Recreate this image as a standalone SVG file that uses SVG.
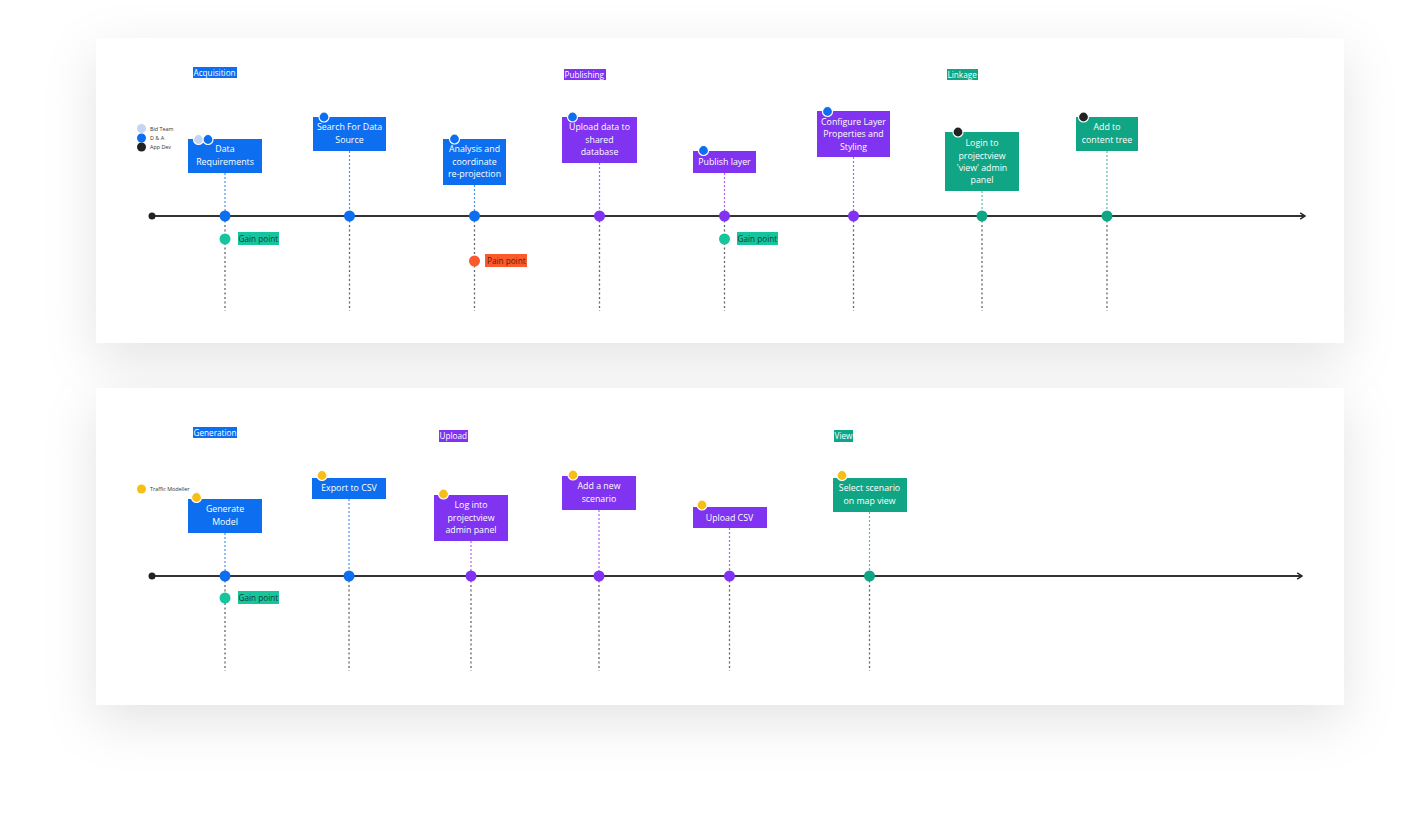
<svg xmlns="http://www.w3.org/2000/svg" width="1402" height="826" viewBox="0 0 1402 826">
<defs>
<filter id="sh" x="-10%" y="-35%" width="120%" height="180%">
<feDropShadow dx="0" dy="16" stdDeviation="26" flood-color="#000" flood-opacity="0.11"/>
</filter>
<marker id="arr" viewBox="0 0 10 10" refX="8" refY="5" markerWidth="8" markerHeight="8" markerUnits="userSpaceOnUse" orient="auto">
<path d="M2,1 L8,5 L2,9" fill="none" stroke="#222" stroke-width="1.8"/>
</marker>
<style>
text{font-family:"Open Sans","Noto Sans","Liberation Sans",sans-serif}
.bt{font-size:8.8px;fill:#fff;text-anchor:middle}
.tt{font-size:8.2px;fill:#fff}
.gt{font-size:8.2px;fill:#1b3a30}
.pt{font-size:8.2px;fill:#5a1a08}
.lg{font-size:5.4px;fill:#333}
.blue{fill:#0d6ff0}
.purple{fill:#8033f0}
.green{fill:#10a585}
.teal{fill:#15c59d}
.orange{fill:#fb5a2c}
.yellow{fill:#f7bf16}
.av{stroke:#fff;stroke-width:1.2}
.tl{stroke:#333;stroke-width:2;fill:none}
.sb{stroke:#4a90f5;stroke-width:1.2;stroke-dasharray:2 2}
.sp{stroke:#a06bf5;stroke-width:1.2;stroke-dasharray:2 2}
.sg{stroke:#52c2aa;stroke-width:1.2;stroke-dasharray:2 2}
.gr{stroke:#666;stroke-width:1.3;stroke-dasharray:2 2.5}
</style>
</defs>
<rect width="1402" height="826" fill="#fff"/>
<rect x="96" y="38" width="1248" height="305" fill="#fff" filter="url(#sh)"/>
<rect x="96" y="388" width="1248" height="317" fill="#fff" filter="url(#sh)"/>

<g id="connectors">
<line class="tl" x1="152" y1="216" x2="1305" y2="216" marker-end="url(#arr)"/>
<circle cx="152" cy="216" r="3.5" fill="#222"/>
<line class="tl" x1="152" y1="576" x2="1302" y2="576" marker-end="url(#arr)"/>
<circle cx="152" cy="576" r="3.5" fill="#222"/>
<line class="sb" x1="225" y1="173" x2="225" y2="216"/>
<line class="sb" x1="349.5" y1="151" x2="349.5" y2="216"/>
<line class="sb" x1="474.5" y1="185" x2="474.5" y2="216"/>
<line class="sp" x1="599.5" y1="163" x2="599.5" y2="216"/>
<line class="sp" x1="724.5" y1="173" x2="724.5" y2="216"/>
<line class="sp" x1="853.5" y1="157" x2="853.5" y2="216"/>
<line class="sg" x1="982" y1="191" x2="982" y2="216"/>
<line class="sg" x1="1107" y1="151" x2="1107" y2="216"/>
<line class="gr" x1="225" y1="216" x2="225" y2="311"/>
<line class="gr" x1="349.5" y1="216" x2="349.5" y2="311"/>
<line class="gr" x1="474.5" y1="216" x2="474.5" y2="311"/>
<line class="gr" x1="599.5" y1="216" x2="599.5" y2="311"/>
<line class="gr" x1="724.5" y1="216" x2="724.5" y2="311"/>
<line class="gr" x1="853.5" y1="216" x2="853.5" y2="311"/>
<line class="gr" x1="982" y1="216" x2="982" y2="311"/>
<line class="gr" x1="1107" y1="216" x2="1107" y2="311"/>
<line class="sb" x1="225" y1="533" x2="225" y2="576"/>
<line class="sb" x1="349" y1="499" x2="349" y2="576"/>
<line class="sp" x1="471" y1="541" x2="471" y2="576"/>
<line class="sp" x1="599" y1="510" x2="599" y2="576"/>
<line class="sp" x1="729.5" y1="528" x2="729.5" y2="576"/>
<line class="sg" x1="869.5" y1="512" x2="869.5" y2="576"/>
<line class="gr" x1="225" y1="576" x2="225" y2="671"/>
<line class="gr" x1="349" y1="576" x2="349" y2="671"/>
<line class="gr" x1="471" y1="576" x2="471" y2="671"/>
<line class="gr" x1="599" y1="576" x2="599" y2="671"/>
<line class="gr" x1="729.5" y1="576" x2="729.5" y2="671"/>
<line class="gr" x1="869.5" y1="576" x2="869.5" y2="671"/>
<circle class="blue" cx="225" cy="216" r="5.5"/>
<circle class="blue" cx="349.5" cy="216" r="5.5"/>
<circle class="blue" cx="474.5" cy="216" r="5.5"/>
<circle class="purple" cx="599.5" cy="216" r="5.5"/>
<circle class="purple" cx="724.5" cy="216" r="5.5"/>
<circle class="purple" cx="853.5" cy="216" r="5.5"/>
<circle class="green" cx="982" cy="216" r="5.5"/>
<circle class="green" cx="1107" cy="216" r="5.5"/>
<circle class="blue" cx="225" cy="576" r="5.5"/>
<circle class="blue" cx="349" cy="576" r="5.5"/>
<circle class="purple" cx="471" cy="576" r="5.5"/>
<circle class="purple" cx="599" cy="576" r="5.5"/>
<circle class="purple" cx="729.5" cy="576" r="5.5"/>
<circle class="green" cx="869.5" cy="576" r="5.5"/>
</g>

<g id="phase-acquisition"><rect class="blue" x="193" y="67" width="44" height="11"/><text class="tt" x="193.5" y="75.8">Acquisition</text></g>
<g id="phase-publishing"><rect class="purple" x="564" y="69" width="42" height="11"/><text class="tt" x="564.5" y="77.8">Publishing</text></g>
<g id="phase-linkage"><rect class="green" x="947" y="69" width="31" height="11"/><text class="tt" x="947.5" y="77.8">Linkage</text></g>
<g id="phase-generation"><rect class="blue" x="193" y="427" width="44" height="11"/><text class="tt" x="193.5" y="435.8">Generation</text></g>
<g id="phase-upload"><rect class="purple" x="439" y="430" width="29" height="12"/><text class="tt" x="439.5" y="439">Upload</text></g>
<g id="phase-view"><rect class="green" x="834" y="430" width="19" height="12"/><text class="tt" x="834.5" y="439">View</text></g>

<g id="legend-top">
<circle cx="141.5" cy="128.5" r="4.5" fill="#c3d5f0"/><text class="lg" x="150" y="130.5">Bid Team</text>
<circle class="blue" cx="141.5" cy="138" r="4.5"/><text class="lg" x="150" y="140">D &amp; A</text>
<circle cx="141.5" cy="147" r="4.5" fill="#222"/><text class="lg" x="150" y="149">App Dev</text>
</g>
<g id="legend-bottom">
<circle class="yellow" cx="141.5" cy="489" r="4.5"/><text class="lg" x="150" y="491">Traffic Modeller</text>
</g>

<g id="n-data-req">
<rect class="blue" x="188" y="139" width="74" height="34"/>
<circle cx="198.5" cy="139.5" r="5" fill="#c3d5f0" class="av"/>
<circle cx="208" cy="139.5" r="5" class="blue av"/>
<text class="bt" x="225" y="152">Data</text><text class="bt" x="225" y="164.5">Requirements</text>
</g>
<g id="n-search">
<rect class="blue" x="313" y="117" width="73" height="34"/>
<circle cx="324" cy="117" r="5" class="blue av"/>
<text class="bt" x="349.5" y="130">Search For Data</text><text class="bt" x="349.5" y="142.5">Source</text>
</g>
<g id="n-analysis">
<rect class="blue" x="443" y="139" width="63" height="46"/>
<circle cx="454.5" cy="139" r="5" class="blue av"/>
<text class="bt" x="474.5" y="152">Analysis and</text><text class="bt" x="474.5" y="164.5">coordinate</text><text class="bt" x="474.5" y="177">re-projection</text>
</g>
<g id="n-upload-db">
<rect class="purple" x="562" y="117" width="75" height="46"/>
<circle cx="572.5" cy="117" r="5" class="blue av"/>
<text class="bt" x="599.5" y="130">Upload data to</text><text class="bt" x="599.5" y="142.5">shared</text><text class="bt" x="599.5" y="155">database</text>
</g>
<g id="n-publish">
<rect class="purple" x="693" y="151" width="63" height="22"/>
<circle cx="703.5" cy="150.5" r="5" class="blue av"/>
<text class="bt" x="724.5" y="164.5">Publish layer</text>
</g>
<g id="n-configure">
<rect class="purple" x="817" y="111" width="73" height="46"/>
<circle cx="827.5" cy="111.5" r="5" class="blue av"/>
<text class="bt" x="853.5" y="124.5">Configure Layer</text><text class="bt" x="853.5" y="137">Properties and</text><text class="bt" x="853.5" y="149.5">Styling</text>
</g>
<g id="n-login-view">
<rect class="green" x="945" y="132" width="74" height="59"/>
<circle cx="958" cy="132" r="5" fill="#222" class="av"/>
<text class="bt" x="982" y="146">Login to</text><text class="bt" x="982" y="158.5">projectview</text><text class="bt" x="982" y="170.5">'view' admin</text><text class="bt" x="982" y="183">panel</text>
</g>
<g id="n-content-tree">
<rect class="green" x="1076" y="117" width="62" height="34"/>
<circle cx="1083.5" cy="117" r="5" fill="#222" class="av"/>
<text class="bt" x="1107" y="130">Add to</text><text class="bt" x="1107" y="142.5">content tree</text>
</g>
<g id="gain-1">
<circle class="teal" cx="225" cy="239" r="5.5"/>
<rect class="teal" x="238" y="232" width="41" height="13"/><text class="gt" x="238.5" y="241.8">Gain point</text>
</g>
<g id="pain-1">
<circle class="orange" cx="474.5" cy="261" r="5.5"/>
<rect class="orange" x="485" y="254" width="42" height="13"/><text class="pt" x="487" y="263.8">Pain point</text>
</g>
<g id="gain-2">
<circle class="teal" cx="724.5" cy="239" r="5.5"/>
<rect class="teal" x="737" y="232" width="41" height="13"/><text class="gt" x="737.5" y="241.8">Gain point</text>
</g>

<g id="n-generate">
<rect class="blue" x="188" y="499" width="74" height="34"/>
<circle cx="196.5" cy="497.5" r="5" class="yellow av"/>
<text class="bt" x="225" y="512">Generate</text><text class="bt" x="225" y="524.5">Model</text>
</g>
<g id="n-export">
<rect class="blue" x="312" y="478" width="74" height="21"/>
<circle cx="322" cy="475.5" r="5" class="yellow av"/>
<text class="bt" x="349" y="491">Export to CSV</text>
</g>
<g id="n-log-into">
<rect class="purple" x="434" y="495" width="74" height="46"/>
<circle cx="443.5" cy="494" r="5" class="yellow av"/>
<text class="bt" x="471" y="508">Log into</text><text class="bt" x="471" y="520.5">projectview</text><text class="bt" x="471" y="533">admin panel</text>
</g>
<g id="n-new-scenario">
<rect class="purple" x="562" y="476" width="74" height="34"/>
<circle cx="573" cy="475" r="5" class="yellow av"/>
<text class="bt" x="599" y="489">Add a new</text><text class="bt" x="599" y="501.5">scenario</text>
</g>
<g id="n-upload-csv">
<rect class="purple" x="693" y="507" width="74" height="21"/>
<circle cx="702" cy="505" r="5" class="yellow av"/>
<text class="bt" x="729.5" y="520.5">Upload CSV</text>
</g>
<g id="n-select">
<rect class="green" x="833" y="478" width="74" height="34"/>
<circle cx="842" cy="475.5" r="5" class="yellow av"/>
<text class="bt" x="869.5" y="491">Select scenario</text><text class="bt" x="869.5" y="503.5">on map view</text>
</g>
<g id="gain-3">
<circle class="teal" cx="225" cy="598" r="5.5"/>
<rect class="teal" x="238" y="591" width="41" height="13"/><text class="gt" x="238.5" y="600.8">Gain point</text>
</g>
</svg>
